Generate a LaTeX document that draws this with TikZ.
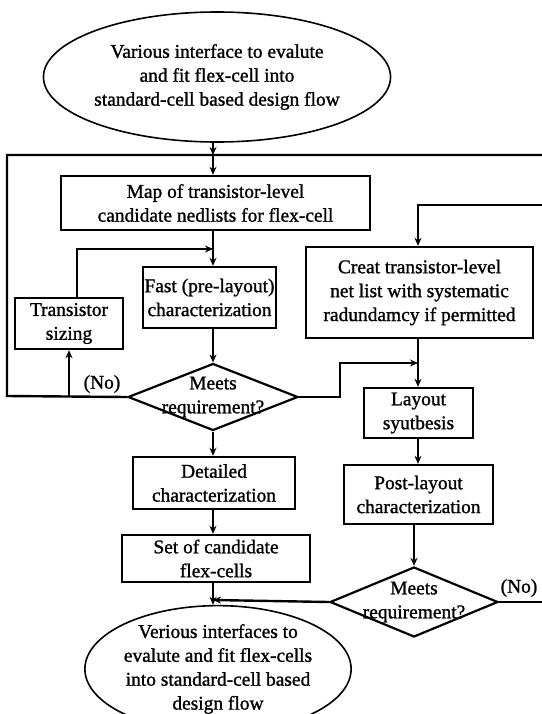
\documentclass[tikz,border=0pt]{standalone}
\usepackage{fontspec}
\setmainfont{Liberation Serif}[BoldFont={Liberation Serif},BoldFeatures={FakeBold=1.2}]
\usetikzlibrary{shapes.geometric,arrows.meta}
\begin{document}
\begin{tikzpicture}[x=1bp,y=-1bp,
  every node/.style={font=\fontsize{19.5}{24}\selectfont\bfseries, align=center, inner sep=0pt},
  stepbox/.style={draw, line width=2.4bp, minimum width=#1},
  oval/.style={draw, ellipse, line width=1.6bp},
  decision/.style={draw, diamond, line width=2.2bp, aspect=2.4},
  conn/.style={line width=2.4bp},
  arr/.style={conn, -{Stealth[length=8bp,width=7bp]}},
  lbl/.style={font=\fontsize{19.5}{24}\selectfont\bfseries}
]
\useasboundingbox (0,0) rectangle (542,714);
\fill[white] (0,0) rectangle (542,714);

% nodes
\node[oval, minimum width=318bp, minimum height=130bp] (top) at (217,77)
  {Various interface to evalute\\and fit flex-cell into\\standard-cell based design flow};
\node[stepbox=309bp, minimum height=54bp] (map) at (215.5,203)
  {Map of transistor-level\\candidate nedlists for flex-cell};
\node[stepbox=133bp, minimum height=61bp] (fast) at (209.5,297.5)
  {Fast (pre-layout)\\characterization};
\node[stepbox=108bp, minimum height=51bp] (trans) at (69,323.5)
  {Transistor\\sizing};
\node[decision, minimum width=170bp, minimum height=67bp] (d1) at (213,397) {};
\node at (213,397) {Meets\\requirement?};
\node[stepbox=227bp, minimum height=91bp] (creat) at (419.5,292.5)
  {Creat transistor-level\\net list with systematic\\radundamcy if permitted};
\node[stepbox=109bp, minimum height=50bp] (layout) at (418.5,413)
  {Layout\\syutbesis};
\node[stepbox=162bp, minimum height=52bp] (det) at (214,483)
  {Detailed\\characterization};
\node[stepbox=149bp, minimum height=59bp] (post) at (418.5,494.5)
  {Post-layout\\characterization};
\node[stepbox=188bp, minimum height=47bp] (set) at (216,558.5)
  {Set of candidate\\flex-cells};
\node[decision, minimum width=168bp, minimum height=70bp] (d2) at (414,602) {};
\node at (414,602) {Meets\\requirement?};
\node[oval, minimum width=264bp, minimum height=104bp] (bot) at (218,669)
  {Verious interfaces to\\evalute and fit flex-cells\\into standard-cell based\\design flow};

% coordinates
\coordinate (j1) at (213,155);
\coordinate (lt) at (7,155);
\coordinate (lb) at (7,396);
\coordinate (rt) at (542,155);
\coordinate (j2) at (213,249);
\coordinate (tr) at (77,249);
\coordinate (ts) at (69,396);
\coordinate (c1) at (340,397);
\coordinate (c2) at (340,363);
\coordinate (j4) at (418,363);
\coordinate (r2) at (542,205);
\coordinate (c3) at (418,205);
\coordinate (j3) at (213,600);
\coordinate (r3) at (542,602);

% connectors
\draw[arr] (top.south -| j1) -- (j1);
\draw[conn] (d1.west) -- (lb) -- (lt) -- (j1) -- (rt);
\draw[arr] (j1) -- (map.north -| j1);
\draw[arr] (map.south -| j2) -- (fast.north -| j2);
\draw[arr] (trans.north -| tr) -- (tr) -- (j2);
\draw[arr] (fast.south -| d1) -- (d1.north);
\draw[arr] (ts) -- (trans.south -| ts);
\draw[arr] (d1.south) -- (det.north -| d1);
\draw[arr] (det.south -| d1) -- (set.north -| d1);
\draw[arr] (set.south -| j3) -- (bot.north -| j3);
\draw[arr] (d2.west) -- (j3);
\draw[arr] (d1.east) -- (c1) -- (c2) -- (j4);
\draw[arr] (r2) -- (c3) -- (creat.north -| c3);
\draw[arr] (creat.south -| j4) -- (layout.north -| j4);
\draw[arr] (layout.south -| j4) -- (post.north -| j4);
\draw[arr] (post.south -| d2) -- (d2.north);
\draw[conn] (d2.east) -- (r3);

\node[lbl] (no1) at (102,384) {(No)};
\node[lbl] (no2) at (519,588) {(No)};
\end{tikzpicture}
\end{document}
